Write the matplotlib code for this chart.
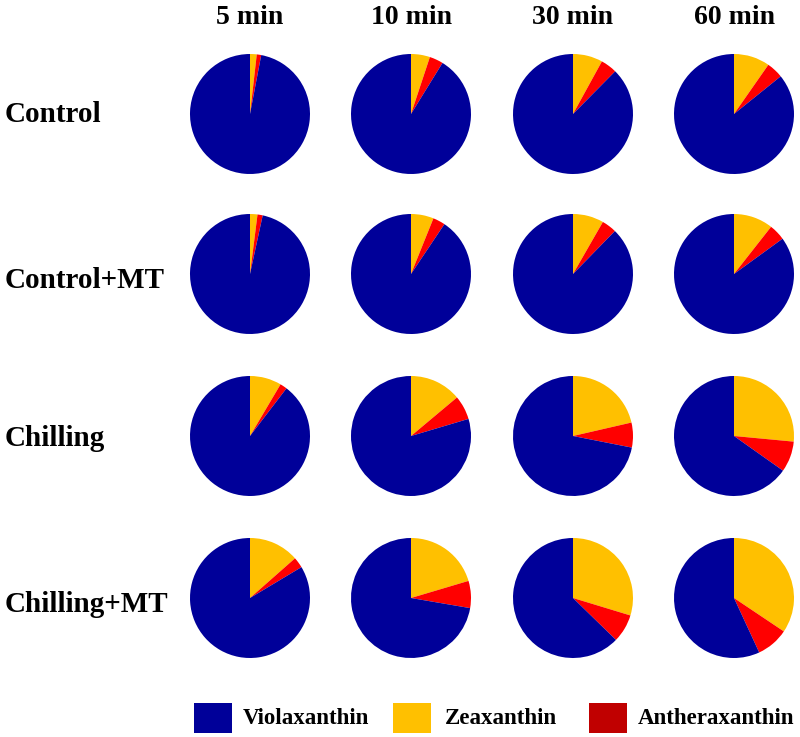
import matplotlib
matplotlib.use("Agg")
import matplotlib.pyplot as plt
from matplotlib.patches import Rectangle

# veriler (yüzde)
zamanlar = ['5 min', '10 min', '30 min', '60 min']
gruplar = ['Control', 'Control+MT', 'Chilling', 'Chilling+MT']
pigmentler = ['Violaxanthin', 'Zeaxanthin', 'Antheraxanthin']

zea_control = [1.8, 5.1, 8.0, 9.7]
zea_control_mt = [2.0, 6.1, 8.3, 10.6]
zea_chilling = [8.5, 13.9, 21.4, 26.5]
zea_chilling_mt = [13.5, 20.4, 29.7, 34.4]

ant_control = [1.2, 3.7, 4.4, 4.5]
ant_control_mt = [1.4, 3.3, 4.0, 4.4]
ant_chilling = [1.9, 6.5, 6.7, 8.3]
ant_chilling_mt = [2.9, 7.3, 7.6, 8.7]

zea = [zea_control, zea_control_mt, zea_chilling, zea_chilling_mt]
ant = [ant_control, ant_control_mt, ant_chilling, ant_chilling_mt]

mavi = '#000099'
sari = '#FFC000'
kirmizi = '#FF0000'
koyu_kirmizi = '#C00000'

plt.rcParams['font.family'] = ['Liberation Serif', 'DejaVu Serif']
plt.rcParams['font.weight'] = 'bold'

W, H = 800, 737
fig = plt.figure(figsize=(W / 100, H / 100), dpi=100)

# pasta merkezleri (piksel)
sutun_x = [250, 411, 573, 734]
satir_y = [114, 274, 436, 598]
r = 60

for i, grup in enumerate(gruplar):
    for j, zaman in enumerate(zamanlar):
        cx, cy = sutun_x[j], satir_y[i]
        ax = fig.add_axes([(cx - r) / W, (H - cy - r) / H, 2 * r / W, 2 * r / H])
        z = zea[i][j]
        a = ant[i][j]
        v = 100 - z - a
        ax.pie([z, a, v], colors=[sari, kirmizi, mavi], startangle=90,
               counterclock=False, radius=1,
               wedgeprops=dict(linewidth=0))
        ax.set_xlim(-1.0, 1.0)
        ax.set_ylim(-1.0, 1.0)
        ax.set_aspect('equal')
        ax.axis('off')

# sütun başlıkları
for j, zaman in enumerate(zamanlar):
    fig.text(sutun_x[j] / W, 1 - 17 / H, zaman, ha='center', va='center',
             fontsize=20, fontweight='bold')

# satır etiketleri
etiket_y = [115, 281, 439, 605]
for i, grup in enumerate(gruplar):
    fig.text(5 / W, 1 - etiket_y[i] / H, grup, ha='left', va='center',
             fontsize=21, fontweight='bold')

# lejant
kutu_x = [194, 393, 589]
yazi_x = [243, 445, 638]
renkler = [mavi, sari, koyu_kirmizi]
for k in range(3):
    fig.patches.append(Rectangle((kutu_x[k] / W, 1 - 733 / H), 38 / W, 30 / H,
                                 transform=fig.transFigure, facecolor=renkler[k],
                                 edgecolor='none'))
    fig.text(yazi_x[k] / W, 1 - 719 / H, pigmentler[k], ha='left', va='center',
             fontsize=16.5, fontweight='bold')

fig.savefig('out.png', dpi=100, facecolor='white')
